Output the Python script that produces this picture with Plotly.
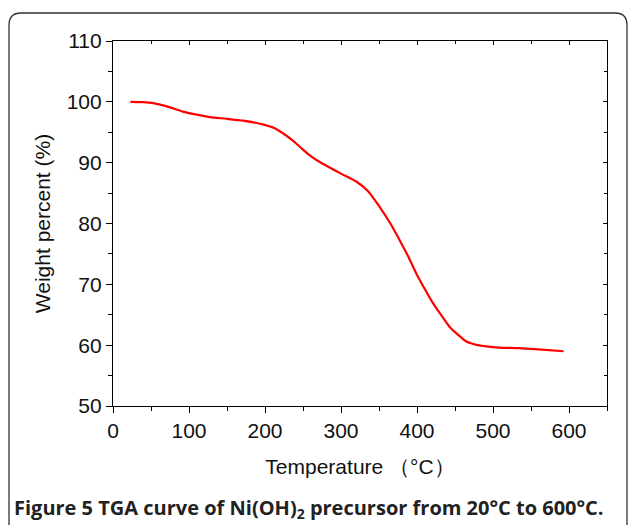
import plotly.graph_objects as go

temperature = [23, 40, 53, 70, 92, 110, 127, 150, 171, 197, 212, 224, 235, 245, 259, 272,
               285, 300, 320, 335, 351, 365, 377, 388, 399, 410, 421, 432, 443, 455, 465,
               480, 491, 508, 535, 560, 593]
weight = [100.0, 99.95, 99.8, 99.3, 98.4, 97.9, 97.5, 97.2, 96.9, 96.3, 95.7, 94.8, 93.8,
          92.7, 91.2, 90.1, 89.2, 88.2, 86.9, 85.4, 82.7, 80.0, 77.3, 74.7, 71.8, 69.3,
          66.9, 64.9, 63.0, 61.6, 60.6, 60.0, 59.8, 59.6, 59.5, 59.3, 59.0]

x_ticks = [0, 100, 200, 300, 400, 500, 600]
y_ticks = [50, 60, 70, 80, 90, 100, 110]

W, H = 629, 525
L, R, T, B = 113, 607, 41, 406


def px(x):
    return (x - L) / (R - L)


def py(y):
    return (B - y) / (B - T)


fig = go.Figure()
fig.add_trace(go.Scatter(x=temperature, y=weight, mode="lines",
                         line=dict(color="#ff0000", width=2.2, shape="spline", smoothing=0.8),
                         showlegend=False, hoverinfo="skip"))
fig.add_trace(go.Scatter(x=[None], y=[None], xaxis="x2", yaxis="y2", showlegend=False))

font = dict(family="Liberation Sans", size=21, color="#111")
fig.update_layout(
    width=W, height=H,
    margin=dict(l=L, r=W - R, t=T, b=H - B, autoexpand=False),
    paper_bgcolor="white", plot_bgcolor="white",
    xaxis=dict(range=[0, 650], tickvals=x_ticks, ticks="outside", ticklen=6, tickwidth=1,
               tickcolor="black", showline=True, linecolor="black", linewidth=1.2,
               showgrid=False, zeroline=False, tickfont=font, automargin=False,
               minor=dict(dtick=50, tick0=0, ticks="outside", ticklen=4, tickcolor="black"),
               title=dict(text="Temperature （°C）", font=font, standoff=18)),
    yaxis=dict(range=[50, 110], tickvals=y_ticks, ticks="outside", ticklen=6, tickwidth=1,
               tickcolor="black", showline=True, linecolor="black", linewidth=1.2,
               showgrid=False, zeroline=False, tickfont=font, automargin=False,
               minor=dict(dtick=5, tick0=50, ticks="outside", ticklen=4, tickcolor="black"),
               title=dict(text="Weight percent (%)", font=font, standoff=10)),
    xaxis2=dict(range=[0, 650], overlaying="x", side="top", tickvals=x_ticks, ticks="inside",
                ticklen=4, tickcolor="black", showticklabels=False, showline=True,
                linecolor="black", linewidth=1.2, showgrid=False, zeroline=False,
                automargin=False,
                minor=dict(dtick=50, tick0=0, ticks="inside", ticklen=3, tickcolor="black")),
    yaxis2=dict(range=[50, 110], overlaying="y", side="right", tickvals=y_ticks, ticks="inside",
                ticklen=4, tickcolor="black", showticklabels=False, showline=True,
                linecolor="black", linewidth=1.2, showgrid=False, zeroline=False,
                automargin=False,
                minor=dict(dtick=5, tick0=50, ticks="inside", ticklen=3, tickcolor="black")),
)

# rounded frame around the figure
x0, x1, y0, y1, r = 9, 627, 13, 540, 12
path = (f"M {px(x0)},{py(y1)} L {px(x0)},{py(y0 + r)} "
        f"Q {px(x0)},{py(y0)} {px(x0 + r)},{py(y0)} "
        f"L {px(x1 - r)},{py(y0)} Q {px(x1)},{py(y0)} {px(x1)},{py(y0 + r)} "
        f"L {px(x1)},{py(y1)}")
fig.add_shape(type="path", path=path, xref="paper", yref="paper",
              line=dict(color="#333", width=1.3))

fig.add_annotation(
    text="<b>Figure 5 TGA curve of Ni(OH)<sub>2</sub> precursor from 20°C to 600°C.</b>",
    xref="paper", yref="paper", x=px(12), y=py(508), xanchor="left", yanchor="middle",
    showarrow=False, font=dict(family="Open Sans", size=20, color="#222"))

fig.write_html("out.html", config={"displayModeBar": False},
               post_script="document.body.style.margin='0';document.body.style.overflow='hidden';")
